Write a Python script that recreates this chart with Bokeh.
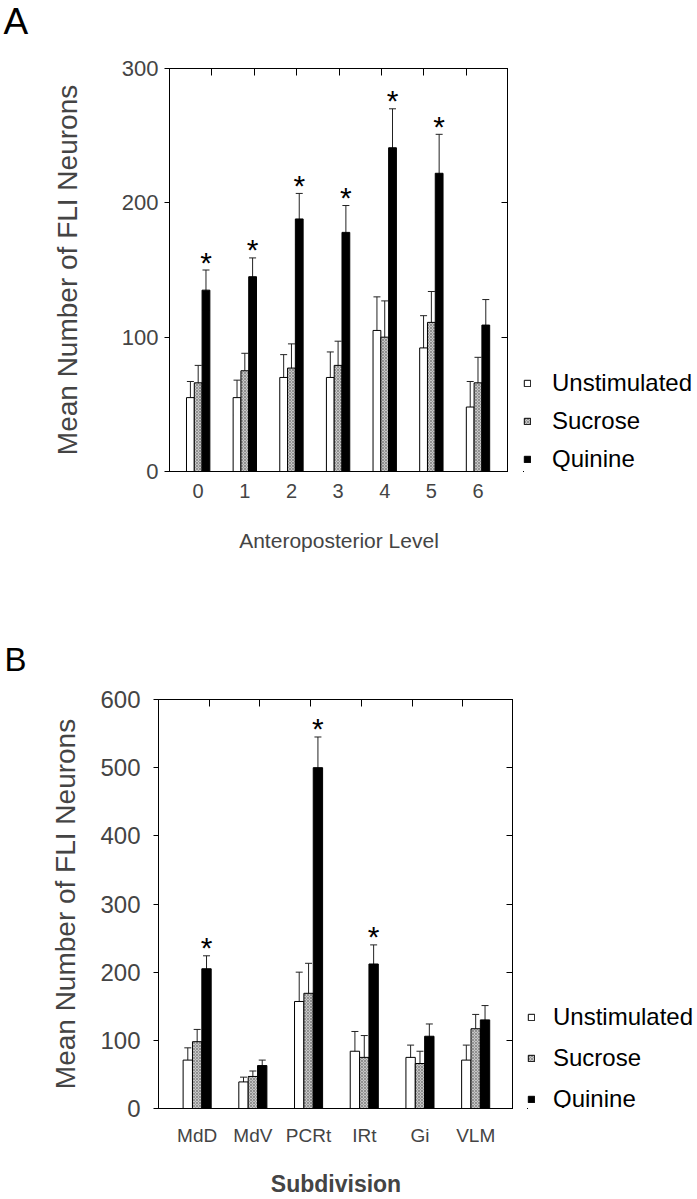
import numpy as np
from bokeh.plotting import figure
from bokeh.models import (ColumnDataSource, Whisker, TeeHead, LinearAxis, FixedTicker,
                          Range1d, Legend, LegendItem, Title)
from bokeh.layouts import column, row
from bokeh.embed import file_html
from bokeh.resources import INLINE
from bokeh.core.properties import value

# ---------------- data ----------------
series = ["Unstimulated", "Sucrose", "Quinine"]

levels_a = ["0", "1", "2", "3", "4", "5", "6"]
unstim_a = [55, 55, 70, 70, 105, 92, 48]
unstim_a_se = [12, 13, 17, 19, 25, 24, 19]
sucrose_a = [66, 75, 77, 79, 100, 111, 66]
sucrose_a_se = [13, 13, 18, 18, 27, 23, 19]
quinine_a = [135, 145, 188, 178, 241, 222, 109]
quinine_a_se = [15, 14, 19, 20, 29, 29, 19]
signif_a = [True, True, True, True, True, True, False]
yticks_a = [0, 100, 200, 300]

subdiv_b = ["MdD", "MdV", "PCRt", "IRt", "Gi", "VLM"]
unstim_b = [71, 39, 157, 84, 75, 71]
unstim_b_se = [18, 7, 43, 29, 18, 22]
sucrose_b = [98, 47, 169, 75, 66, 117]
sucrose_b_se = [18, 8, 44, 32, 18, 21]
quinine_b = [205, 63, 500, 212, 106, 130]
quinine_b_se = [19, 8, 45, 28, 18, 21]
signif_b = [True, False, True, True, False, False]
yticks_b = [0, 100, 200, 300, 400, 500, 600]

FONT = "Liberation Sans"
W = 697

STYLES = [
    dict(fill_color="white"),
    dict(fill_color="#c6c6c6", hatch_pattern="diagonal_cross", hatch_scale=3,
         hatch_color="#7a7a7a", hatch_weight=0.7),
    dict(fill_color="black"),
]


def blank_fig(width, height, **kw):
    f = figure(width=width, height=height, x_range=Range1d(1000, 1001),
               y_range=Range1d(1000, 1001), output_backend="svg", toolbar_location=None, **kw)
    f.axis.visible = False
    f.xgrid.visible = False
    f.ygrid.visible = False
    f.outline_line_color = None
    return f


def letter_fig(text, height, offset, size):
    f = blank_fig(W, height, min_border=0)
    f.title = Title(text=text, align="left", vertical_align="top", offset=offset, standoff=0,
                    text_font=FONT, text_font_size=size, text_font_style="normal",
                    text_color="black")
    return f


def legend_fig(sources, bw, width, height, left, loc, fs, standoff, spacing):
    # separate canvas for the key; its ranges sit away from the data so only the key shows
    lf = blank_fig(width, height, min_border_left=left, min_border_right=0)
    lf.title.visible = False
    rs = [lf.vbar(x="x", top="top", bottom=0, width=bw, source=src,
                  line_color="black", line_width=1, **STYLES[j])
          for j, src in enumerate(sources)]
    lg = Legend(items=[LegendItem(label=s, renderers=[r]) for s, r in zip(series, rs)],
                location=loc, glyph_width=8, glyph_height=8,
                label_standoff=standoff, spacing=spacing, padding=0, margin=0,
                border_line_color=None, background_fill_alpha=0, label_text_font=FONT,
                label_text_font_size=fs, label_text_color="black")
    lf.add_layout(lg)
    return lf


def inner_axis(ticks):
    return LinearAxis(ticker=FixedTicker(ticks=ticks), major_tick_in=7, major_tick_out=0,
                      minor_tick_in=0, minor_tick_out=0, major_label_text_color=None,
                      major_label_text_font_size="1px", major_label_standoff=0,
                      axis_line_color="black")


def panel(cats, means, ses, signif, yticks, xr, bw, ntop, width, height, bl, bt, bb,
          xtitle, xtitle_bold, tick_fs, xlab_fs, ylab_standoff, ylab_tick_standoff,
          xlab_standoff, xtitle_standoff, xtitle_fs):
    n = len(cats)
    p = figure(width=width, height=height, x_range=Range1d(*xr),
               y_range=Range1d(yticks[0], yticks[-1]),
               min_border_left=bl, min_border_right=0, min_border_top=bt,
               min_border_bottom=bb, output_backend="svg", toolbar_location=None)
    p.title.visible = False
    p.xgrid.visible = False
    p.ygrid.visible = False
    p.outline_line_color = "black"
    p.outline_line_width = 1
    p.background_fill_color = "white"
    p.border_fill_color = "white"

    idx = np.arange(n)
    sources = []
    for j, (m, s) in enumerate(zip(means, ses)):
        m = np.asarray(m, float)
        s = np.asarray(s, float)
        src = ColumnDataSource(dict(x=idx + (j - 1) * bw, top=m, upper=m + s, lower=m - s))
        sources.append(src)
        p.vbar(x="x", top="top", bottom=0, width=bw, source=src,
               line_color="black", line_width=1, **STYLES[j])
        p.add_layout(Whisker(base="x", upper="upper", lower="lower", source=src,
                             dimension="height", line_color="#222222", line_width=1,
                             upper_head=TeeHead(size=7, line_color="#222222", line_width=1),
                             lower_head=TeeHead(size=7, line_color="#222222", line_width=1)))
    q = np.asarray(means[2], float)
    qs = np.asarray(ses[2], float)
    sig = np.asarray(signif)
    star_src = ColumnDataSource(dict(x=(idx + bw)[sig], y=(q + qs)[sig]))
    p.text(x="x", y="y", text=value("*"), source=star_src, text_align="center",
           text_baseline="alphabetic", y_offset=-8, text_font=value(FONT),
           text_font_size="30px", text_color="black")

    # bottom axis
    xa = p.xaxis[0]
    xa.ticker = FixedTicker(ticks=list(idx))
    xa.major_label_overrides = {int(i): c for i, c in enumerate(cats)}
    xa.major_tick_in = 0
    xa.major_tick_out = 0
    xa.minor_tick_in = 0
    xa.minor_tick_out = 0
    xa.major_label_text_font = FONT
    xa.major_label_text_font_size = xlab_fs
    xa.major_label_standoff = xlab_standoff
    xa.axis_label = xtitle
    xa.axis_label_text_font = FONT
    xa.axis_label_text_font_size = xtitle_fs
    xa.axis_label_text_font_style = "bold" if xtitle_bold else "normal"
    xa.axis_label_standoff = xtitle_standoff
    xa.axis_line_color = "black"

    # left axis
    ya = p.yaxis[0]
    ya.ticker = FixedTicker(ticks=yticks)
    ya.major_tick_out = 5
    ya.major_tick_in = 0
    ya.minor_tick_in = 0
    ya.minor_tick_out = 0
    ya.major_label_text_font = FONT
    ya.major_label_text_font_size = tick_fs
    ya.major_label_standoff = ylab_tick_standoff
    ya.axis_label = "Mean Number of FLI Neurons"
    ya.axis_label_text_font = FONT
    ya.axis_label_text_font_size = "28px"
    ya.axis_label_text_font_style = "normal"
    ya.axis_label_standoff = ylab_standoff
    ya.axis_line_color = "black"

    # top / right axes: inward ticks only
    top_ticks = list(np.linspace(xr[0], xr[1], ntop + 1)[1:-1])
    p.add_layout(inner_axis(top_ticks), "above")
    p.add_layout(inner_axis(yticks[1:-1]), "right")
    return p, sources


# vertical bands (px): letter A 0-50, panel A 50-640, letter B 640-690, panel B 690-1199
HA_LET, HA = 50, 590
HB_LET, HB = 50, 509

letA = letter_fig("A", HA_LET, 3, "37px")
pA, srcA = panel(levels_a, [unstim_a, sucrose_a, quinine_a],
                 [unstim_a_se, sucrose_a_se, quinine_a_se], signif_a, yticks_a,
                 xr=(-0.615, 6.654), bw=0.167, ntop=8, width=508, height=HA, bl=169,
                 bt=68 - HA_LET, bb=HA_LET + HA - 471, xtitle="Anteroposterior Level",
                 xtitle_bold=False, tick_fs="22px", xlab_fs="20px", ylab_standoff=36,
                 ylab_tick_standoff=6, xlab_standoff=12, xtitle_standoff=28, xtitle_fs="21px")
legA = legend_fig(srcA, 0.167, W - 508, HA, 15, (0, -2), "24px", 21, 10)

letB = letter_fig("B", HB_LET, 4, "33px")
pB, srcB = panel(subdiv_b, [unstim_b, sucrose_b, quinine_b],
                 [unstim_b_se, sucrose_b_se, quinine_b_se], signif_b, yticks_b,
                 xr=(-0.694, 5.679), bw=0.168, ntop=7, width=513, height=HB, bl=158,
                 bt=9, bb=88, xtitle="Subdivision", xtitle_bold=True,
                 tick_fs="24px", xlab_fs="19px", ylab_standoff=16, ylab_tick_standoff=13,
                 xlab_standoff=16, xtitle_standoff=22, xtitle_fs="23px")
legB = legend_fig(srcB, 0.168, W - 513, HB, 14, (0, -5), "24px", 18, 13)

layout = column(letA, row(pA, legA, spacing=0), letB, row(pB, legB, spacing=0), spacing=0)
open("out.html", "w").write(file_html(layout, INLINE))
